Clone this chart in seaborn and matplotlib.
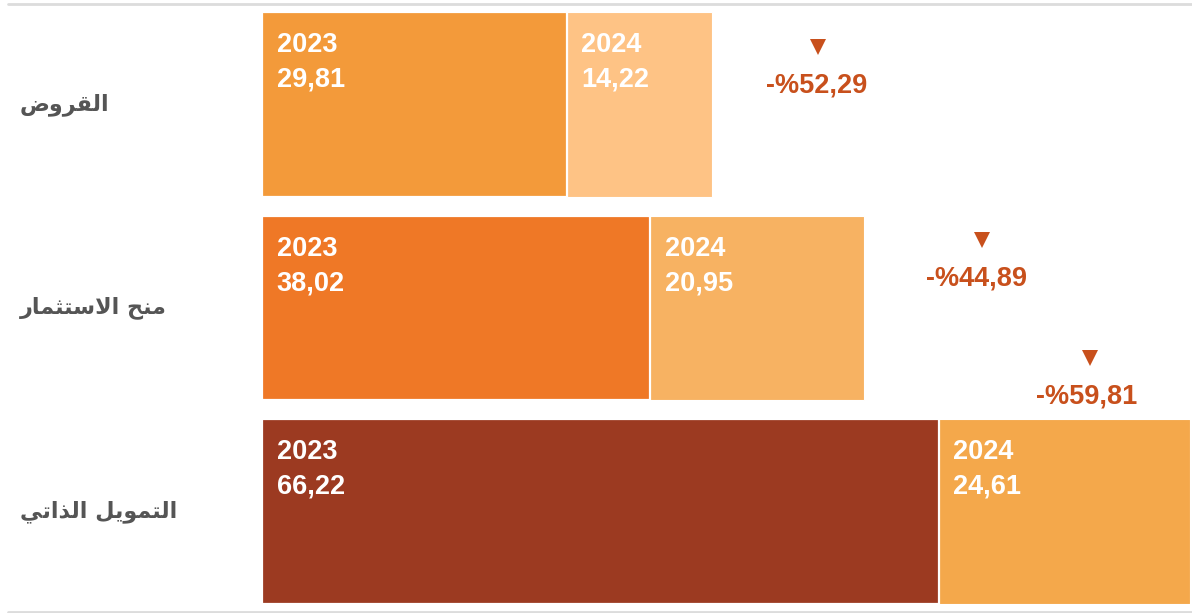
import matplotlib
matplotlib.use("Agg")
import matplotlib.pyplot as plt
import pandas as pd
import seaborn as sns
from matplotlib.transforms import blended_transform_factory

categories = ["القروض", "منح الاستثمار", "التمويل الذاتي"]
values_2023 = [29.81, 38.02, 66.22]
values_2024 = [14.22, 20.95, 24.61]
changes = [-52.29, -44.89, -59.81]
years = ["2023", "2024"]

colors_2023 = ["#F39A3A", "#EF7826", "#9C3A21"]
colors_2024 = ["#FEC385", "#F7B262", "#F4A84B"]
change_color = "#C8501C"

# matplotlib draws glyphs left to right without joining them,
# so the arabic labels get their contextual forms here
FORMS = {
    "ا": ("\uFE8D", "\uFE8E", None, None),
    "ل": ("\uFEDD", "\uFEDE", "\uFEDF", "\uFEE0"),
    "ق": ("\uFED5", "\uFED6", "\uFED7", "\uFED8"),
    "ر": ("\uFEAD", "\uFEAE", None, None),
    "و": ("\uFEED", "\uFEEE", None, None),
    "ض": ("\uFEBD", "\uFEBE", "\uFEBF", "\uFEC0"),
    "م": ("\uFEE1", "\uFEE2", "\uFEE3", "\uFEE4"),
    "ن": ("\uFEE5", "\uFEE6", "\uFEE7", "\uFEE8"),
    "ح": ("\uFEA1", "\uFEA2", "\uFEA3", "\uFEA4"),
    "س": ("\uFEB1", "\uFEB2", "\uFEB3", "\uFEB4"),
    "ت": ("\uFE95", "\uFE96", "\uFE97", "\uFE98"),
    "ث": ("\uFE99", "\uFE9A", "\uFE9B", "\uFE9C"),
    "ي": ("\uFEF1", "\uFEF2", "\uFEF3", "\uFEF4"),
    "ذ": ("\uFEAB", "\uFEAC", None, None),
    "\uFEFB": ("\uFEFB", "\uFEFC", None, None),  # lam-alef
}


def shape(text):
    chars = list(text.replace("لا", "\uFEFB"))
    out = []
    for i, c in enumerate(chars):
        if c not in FORMS:
            out.append(c)
            continue
        iso, fin, ini, med = FORMS[c]
        prev_joins = i > 0 and chars[i - 1] in FORMS and FORMS[chars[i - 1]][2] is not None
        next_joins = i < len(chars) - 1 and chars[i + 1] in FORMS and ini is not None
        if prev_joins and next_joins:
            out.append(med)
        elif prev_joins:
            out.append(fin)
        elif next_joins:
            out.append(ini)
        else:
            out.append(iso)
    return "".join(reversed(out))


def fmt(v):
    return f"{v:.2f}".replace(".", ",")


df = pd.DataFrame({"category": categories, "v2023": values_2023, "v2024": values_2024})
df["total"] = df["v2023"] + df["v2024"]

sns.set_theme(style="white")
plt.rcParams["font.family"] = ["Liberation Sans", "DejaVu Sans"]

W, H = 1192, 613
fig = plt.figure(figsize=(W / 100, H / 100), dpi=100)
ax = fig.add_axes([262 / W, 1 - 604 / H, 928 / W, 592 / H])

bar_w = 0.909
sns.barplot(data=df, y="category", x="total", hue="category", palette=colors_2024,
            width=bar_w, errorbar=None, legend=False, orient="h", saturation=1,
            edgecolor="white", linewidth=0.8, ax=ax)
sns.barplot(data=df, y="category", x="v2023", hue="category", palette=colors_2023,
            width=bar_w, errorbar=None, legend=False, orient="h", saturation=1,
            edgecolor="white", linewidth=1.6, ax=ax)
ax.set_xlim(0, df["total"].max())
ax.set_ylim(2 + bar_w / 2, -bar_w / 2)
ax.axis("off")

# year + value inside each segment
for i in range(len(categories)):
    starts = [0, values_2023[i]]
    vals = [values_2023[i], values_2024[i]]
    for j in range(2):
        ax.text(starts[j] + 1.45, i - 0.257, years[j], color="white",
                fontsize=19.5, fontweight="bold", ha="left", va="baseline")
        ax.text(starts[j] + 1.45, i - 0.087, fmt(vals[j]), color="white",
                fontsize=19.5, fontweight="bold", ha="left", va="baseline")

# change labels
chg_x = [54.32, 69.98, 80.75]
chg_y = [-0.061, -0.113, -0.533]
arr_x = [54.42, 70.47, 81.04]
arr_y = [-0.283, -0.334, -0.754]
for i, c in enumerate(changes):
    ax.text(chg_x[i], i + chg_y[i], "-%" + fmt(abs(c)), color=change_color,
            fontsize=19.5, fontweight="bold", ha="center", va="baseline")
    ax.plot(arr_x[i], i + arr_y[i], marker="v", ms=12, color=change_color,
            markeredgewidth=0, clip_on=False)

# category labels on the left
trans = blended_transform_factory(fig.transFigure, ax.transData)
for i, cat in enumerate(categories):
    ax.text(20 / W, i, shape(cat), transform=trans, color="#555555",
            fontsize=16, fontweight="bold", ha="left", va="center",
            family=["DejaVu Sans"])

# thin rules at top and bottom
for yy in [3.5, 611.5]:
    fig.add_artist(plt.Line2D([8 / W, 1], [1 - yy / H] * 2, color="#dcdcdc", lw=2))

fig.savefig("out.png", dpi=100)
